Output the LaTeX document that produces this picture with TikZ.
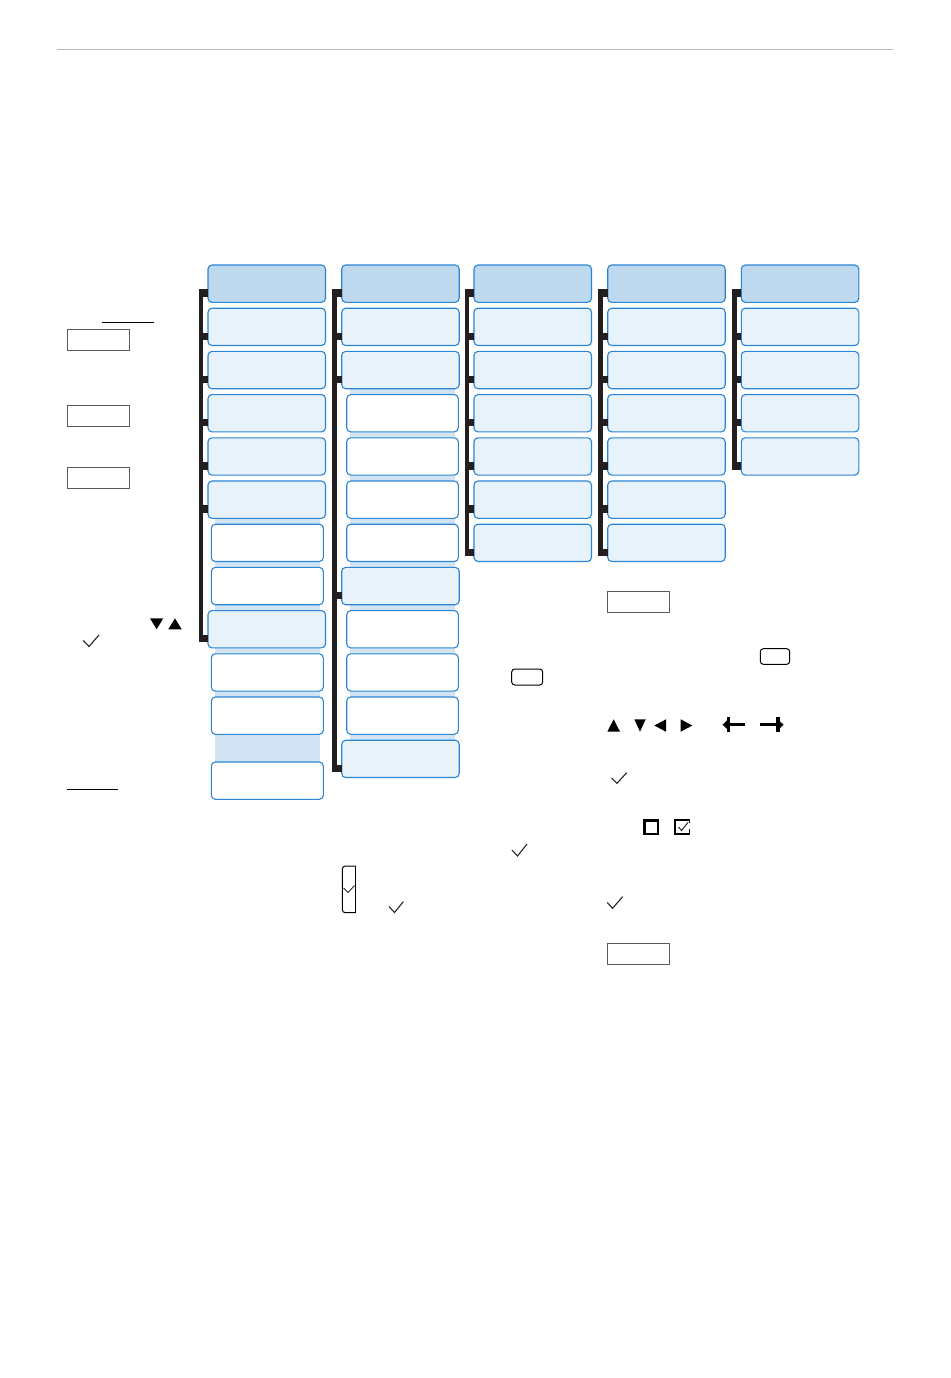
\documentclass[tikz,border=0pt]{standalone}
\usetikzlibrary{calc}
\definecolor{headfill}{RGB}{190,216,238}
\definecolor{itemfill}{RGB}{232,242,251}
\definecolor{boxline}{RGB}{42,133,212}
\definecolor{bandfill}{RGB}{210,228,244}
\definecolor{barcol}{RGB}{35,31,32}
\definecolor{rulegray}{RGB}{185,185,185}
\definecolor{framegray}{RGB}{90,90,90}
\begin{document}
\begin{tikzpicture}[x=1pt,y=-1pt,
  box/.style={draw=boxline, line width=1.1pt, rounded corners=4pt, inner sep=0pt, outer sep=0pt, minimum height=37.3pt, anchor=north west},
  headbox/.style={box, fill=headfill, minimum width=117.5pt},
  itembox/.style={box, fill=itemfill, minimum width=117.5pt},
  subbox/.style={box, fill=white, minimum width=112pt},
  subboxb/.style={box, fill=white, minimum width=111.6pt},
  bracketbar/.style={draw=barcol, line width=4.6pt},
  stub/.style={draw=barcol, line width=7.4pt},
  frame/.style={draw=framegray, line width=1pt},
  keyframe/.style={draw=black, line width=1pt, rounded corners=3pt},
  tick/.style={draw=black!85, line width=1.1pt},
  tri/.style={fill=black}
]
\useasboundingbox (0,0) rectangle (950,1378);
\fill[white] (0,0) rectangle (950,1378);

% top rule
\draw[rulegray, line width=1pt] (57,50) -- (893,50);

% bands behind sub-items
\fill[bandfill] (215,516) rectangle (319.5,792);
\fill[bandfill] (350,386) rectangle (455,745);

% column 1
\node[headbox] (c1r1) at (208,265) {};
\foreach \i/\t in {2/308.2,3/351.4,4/394.6,5/437.8,6/481,9/610.6}
  \node[itembox] (c1r\i) at (208,\t) {};
\foreach \i/\t in {7/524.2,8/567.4,10/653.8,11/697,12/762}
  \node[subbox] (c1r\i) at (211.3,\t) {};

% column 2
\node[headbox] (c2r1) at (341.7,265) {};
\foreach \i/\t in {2/308.2,3/351.4,8/567.4,12/740.2}
  \node[itembox] (c2r\i) at (341.7,\t) {};
\foreach \i/\t in {4/394.6,5/437.8,6/481,7/524.2,9/610.6,10/653.8,11/697}
  \node[subboxb] (c2r\i) at (346.7,\t) {};

% column 3
\node[headbox] (c3r1) at (474,265) {};
\foreach \i/\t in {2/308.2,3/351.4,4/394.6,5/437.8,6/481,7/524.2}
  \node[itembox] (c3r\i) at (474,\t) {};

% column 4
\node[headbox] (c4r1) at (607.7,265) {};
\foreach \i/\t in {2/308.2,3/351.4,4/394.6,5/437.8,6/481,7/524.2}
  \node[itembox] (c4r\i) at (607.7,\t) {};

% column 5
\node[headbox] (c5r1) at (741.3,265) {};
\foreach \i/\t in {2/308.2,3/351.4,4/394.6,5/437.8}
  \node[itembox] (c5r\i) at (741.3,\t) {};

% brackets
\draw[bracketbar] ([xshift=-7pt,yshift=-24.3pt]c1r1.north west) -- ([xshift=-7pt,yshift=-31.7pt]c1r9.north west);
\foreach \i in {1,2,3,4,5,6,9}
  \draw[stub] ([yshift=-28pt]c1r\i.north west) -- ++(-9.3,0);

\draw[bracketbar] ([xshift=-7pt,yshift=-24.3pt]c2r1.north west) -- ([xshift=-7pt,yshift=-31.7pt]c2r12.north west);
\foreach \i in {1,2,3,8,12}
  \draw[stub] ([yshift=-28pt]c2r\i.north west) -- ++(-9.3,0);

\draw[bracketbar] ([xshift=-7pt,yshift=-24.3pt]c3r1.north west) -- ([xshift=-7pt,yshift=-31.7pt]c3r7.north west);
\foreach \i in {1,...,7}
  \draw[stub] ([yshift=-28pt]c3r\i.north west) -- ++(-9.3,0);

\draw[bracketbar] ([xshift=-7pt,yshift=-24.3pt]c4r1.north west) -- ([xshift=-7pt,yshift=-31.7pt]c4r7.north west);
\foreach \i in {1,...,7}
  \draw[stub] ([yshift=-28pt]c4r\i.north west) -- ++(-9.3,0);

\draw[bracketbar] ([xshift=-7pt,yshift=-24.3pt]c5r1.north west) -- ([xshift=-7pt,yshift=-31.7pt]c5r5.north west);
\foreach \i in {1,...,5}
  \draw[stub] ([yshift=-28pt]c5r\i.north west) -- ++(-9.3,0);

% left annotations
\draw[black, line width=1pt] (102.3,322.3) -- (154.3,322.3);
\draw[frame] (67.3,329.3) rectangle (129.7,350.3);
\draw[frame] (67.3,405.3) rectangle (129.7,426.3);
\draw[frame] (67.3,467) rectangle (129.7,488.7);
\fill[tri] (150,618.3) -- (163.3,618.3) -- (156.65,629.3) -- cycle;
\fill[tri] (168.3,629.3) -- (181.7,629.3) -- (175,618.3) -- cycle;
\draw[tick] (83.3,640.5) -- (89,646.5) -- (99,635);
\draw[black, line width=1pt] (67,789) -- (118,789);

% middle annotations
\draw[keyframe] (511.7,669) rectangle (542.7,685);
\draw[tick] (512,850) -- (517.5,856) -- (527,844);
\draw[black, line width=1pt] (355.7,866) -- (355.7,912.7);
\draw[black, line width=1pt, rounded corners=3pt] (355.7,866) -- (342.3,866) -- (342.3,912.7) -- (355.7,912.7);
\draw[black!85, line width=0.9pt] (343.5,888) -- (348,892.5) -- (354.5,885.5);
\draw[tick] (389,906.5) -- (394.5,912.5) -- (403.3,901.7);

% right annotations
\draw[frame] (607.3,591) rectangle (669.7,612.3);
\draw[keyframe] (760.3,648.7) rectangle (789.7,664.3);
\fill[tri] (607.3,731.7) -- (620,731.7) -- (613.65,719.3) -- cycle;
\fill[tri] (634.3,719.3) -- (645.7,719.3) -- (640,731.7) -- cycle;
\fill[tri] (654.3,725.5) -- (666,719.3) -- (666,731.7) -- cycle;
\fill[tri] (680.7,719.3) -- (680.7,731.7) -- (692.3,725.5) -- cycle;
% bar-arrow glyphs
\draw[black, line width=3.4pt] (724,724.7) -- (745.3,724.7);
\fill[black] (722.5,724.7) -- (727,720.5) -- (727,728.9) -- cycle;
\fill[black] (726.5,716.7) rectangle (730.3,732.3);
\draw[black, line width=3.4pt] (760,724.7) -- (782,724.7);
\fill[black] (783.6,724.7) -- (779,720.5) -- (779,728.9) -- cycle;
\fill[black] (776.2,716.7) rectangle (780,732.3);
\draw[tick] (611.7,778) -- (617,783.3) -- (626.7,772.7);
\draw[black, line width=2.2pt] (644.4,820.4) rectangle (657.9,834.2);
\draw[black, line width=2.2pt] (675.1,819.3) -- (675.1,834.2) -- (690,834.2);
\draw[black, line width=1.2pt] (675.1,820) -- (689.4,820) -- (689.4,823);
\draw[black, line width=1.2pt] (689.4,829) -- (689.4,834);
\draw[black!85, line width=1pt] (678.5,827) -- (681.5,830.5) -- (688,822.5);
\draw[tick] (607.3,902.5) -- (612.5,908.3) -- (622.7,896.7);
\draw[frame] (607.3,943.3) rectangle (669.7,964.3);
\end{tikzpicture}
\end{document}
